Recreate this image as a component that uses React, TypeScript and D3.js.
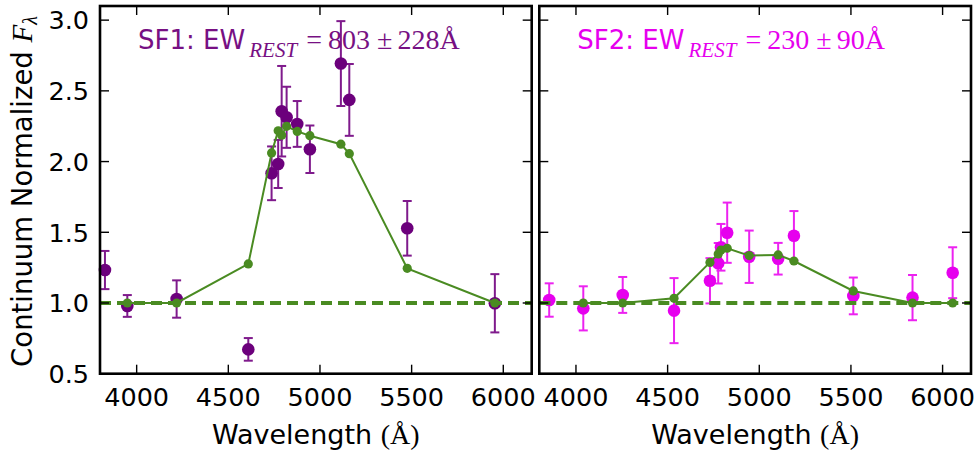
import React from "react";
import * as d3 from "d3";

// Observed photometry (continuum normalized) for the two sources
const sf1Wave = [3827, 3949, 4218, 4609, 4736, 4772, 4791, 4818, 4876, 4945, 5114, 5160, 5476, 5954];
const sf1Flux = [1.233, 0.979, 1.028, 0.672, 1.917, 1.983, 2.356, 2.313, 2.266, 2.087, 2.693, 2.436, 1.528, 0.998];
const sf1Err = [0.135, 0.077, 0.132, 0.08, 0.19, 0.17, 0.32, 0.216, 0.162, 0.168, 0.3, 0.254, 0.193, 0.206];

// Best-fit model sampled at the filter wavelengths
const sf1ModelWave = [3949, 4218, 4609, 4736, 4772, 4791, 4818, 4876, 4945, 5114, 5160, 5476, 5954];
const sf1ModelFlux = [1.0, 1.0, 1.276, 2.061, 2.218, 2.186, 2.249, 2.213, 2.183, 2.123, 2.056, 1.245, 1.0];

const sf2Wave = [3854, 4040, 4255, 4535, 4731, 4776, 4791, 4825, 4945, 5103, 5189, 5513, 5836, 6055];
const sf2Flux = [1.021, 0.962, 1.057, 0.946, 1.157, 1.281, 1.394, 1.497, 1.327, 1.313, 1.475, 1.05, 1.038, 1.214];
const sf2Err = [0.118, 0.156, 0.127, 0.23, 0.16, 0.143, 0.165, 0.213, 0.185, 0.112, 0.175, 0.13, 0.16, 0.18];

const sf2ModelWave = [4040, 4255, 4535, 4731, 4776, 4791, 4825, 4945, 5103, 5189, 5513, 5836, 6055];
const sf2ModelFlux = [1.0, 1.0, 1.033, 1.287, 1.347, 1.374, 1.387, 1.335, 1.34, 1.297, 1.085, 1.0, 1.0];

// Equivalent widths quoted in each panel
const sourceNames = ["SF1", "SF2"];
const ewValues = [803, 230];
const ewErrors = [228, 90];

const xTicks = [4000, 4500, 5000, 5500, 6000];
const yTicks = [0.5, 1.0, 1.5, 2.0, 2.5, 3.0];
const continuumLevel = 1.0;

const X_DOMAIN = [3800, 6155];
const Y_DOMAIN = [0.5, 3.1];
const PANEL_W = 431.7;
const TOP = 6;
const BOTTOM = 373.7;
const TICK_LEN = 9;

const SANS = "'DejaVu Sans', sans-serif";
const SERIF = "'Liberation Serif', 'DejaVu Serif', serif";
const GREEN = "#4a8b22";

type PanelProps = {
  x0: number;
  wave: number[];
  flux: number[];
  err: number[];
  modelWave: number[];
  modelFlux: number[];
  color: string;
  errColor: string;
  titleColor: string;
  name: string;
  ew: number;
  ewErr: number;
  showYLabels: boolean;
};

function Panel(p: PanelProps) {
  const x = d3.scaleLinear().domain(X_DOMAIN).range([p.x0, p.x0 + PANEL_W]);
  const y = d3.scaleLinear().domain(Y_DOMAIN).range([BOTTOM, TOP]);
  const modelPts: [number, number][] = p.modelWave.map((w, i) => [x(w), y(p.modelFlux[i])]);
  const line = d3.line();
  const cap = 4.5;
  const x1 = x(X_DOMAIN[0]);
  const x2 = x(X_DOMAIN[1]);
  const tx = p.x0 + 38;
  const ty = 49;

  return (
    <g>
      {/* error bars and observed fluxes */}
      {p.wave.map((w, i) => {
        const cx = x(w);
        const hi = y(p.flux[i] + p.err[i]);
        const lo = y(p.flux[i] - p.err[i]);
        return (
          <g key={"e" + i} stroke={p.errColor} strokeWidth={2}>
            <line x1={cx} x2={cx} y1={hi} y2={lo} />
            <line x1={cx - cap} x2={cx + cap} y1={hi} y2={hi} />
            <line x1={cx - cap} x2={cx + cap} y1={lo} y2={lo} />
          </g>
        );
      })}
      {p.wave.map((w, i) => (
        <circle key={"c" + i} cx={x(w)} cy={y(p.flux[i])} r={6.3} fill={p.color} />
      ))}

      {/* continuum level */}
      <line
        x1={x1}
        x2={x2}
        y1={y(continuumLevel)}
        y2={y(continuumLevel)}
        stroke={GREEN}
        strokeWidth={3.8}
        strokeDasharray="11 6"
      />

      {/* model */}
      <path d={line(modelPts) || ""} fill="none" stroke={GREEN} strokeWidth={2} />
      {modelPts.map((pt, i) => (
        <circle key={"m" + i} cx={pt[0]} cy={pt[1]} r={4.6} fill={GREEN} />
      ))}

      {/* ticks on all four sides */}
      {xTicks.map((t) => (
        <g key={"xt" + t} stroke="#000" strokeWidth={1.4}>
          <line x1={x(t)} x2={x(t)} y1={BOTTOM} y2={BOTTOM - TICK_LEN} />
          <line x1={x(t)} x2={x(t)} y1={TOP} y2={TOP + TICK_LEN} />
        </g>
      ))}
      {yTicks.map((t) => (
        <g key={"yt" + t} stroke="#000" strokeWidth={1.4}>
          <line x1={x1} x2={x1 + TICK_LEN} y1={y(t)} y2={y(t)} />
          <line x1={x2} x2={x2 - TICK_LEN} y1={y(t)} y2={y(t)} />
        </g>
      ))}

      <rect
        x={x1}
        y={TOP}
        width={x2 - x1}
        height={BOTTOM - TOP}
        fill="none"
        stroke="#000"
        strokeWidth={2.6}
      />

      {/* tick labels */}
      {xTicks.map((t) => (
        <text
          key={"xl" + t}
          x={x(t)}
          y={406}
          textAnchor="middle"
          fontFamily={SANS}
          fontSize={25.5}
          fill="#000"
        >
          {t}
        </text>
      ))}
      {p.showYLabels &&
        yTicks.map((t) => (
          <text
            key={"yl" + t}
            x={x1 - 11}
            y={y(t) + 9.3}
            textAnchor="end"
            fontFamily={SANS}
            fontSize={25.5}
            fill="#000"
          >
            {d3.format(".1f")(t)}
          </text>
        ))}

      {/* x axis label */}
      <text
        x={(x1 + x2) / 2}
        y={444}
        textAnchor="middle"
        fontFamily={SANS}
        fontSize={27}
        fill="#000"
      >
        Wavelength{" "}
        <tspan fontFamily={SERIF} fontSize={28}>
          (Å)
        </tspan>
      </text>

      {/* panel title */}
      <text x={tx} y={ty} fill={p.titleColor} fontFamily={SANS} fontSize={26}>
        {p.name}: EW
        <tspan
          fontFamily={SERIF}
          fontStyle="italic"
          fontSize={21}
          dx={4}
          dy={8}
          textLength={48}
          lengthAdjust="spacing"
        >
          REST
        </tspan>
        <tspan fontFamily={SERIF} fontSize={28} dx={9} dy={-8}>
          =
        </tspan>
        <tspan fontFamily={SERIF} fontSize={28} dx={6}>
          {String(p.ew)}
        </tspan>
        <tspan fontFamily={SERIF} fontSize={28} dx={7}>
          ±
        </tspan>
        <tspan fontFamily={SERIF} fontSize={28} dx={5}>
          {p.ewErr + "Å"}
        </tspan>
      </text>
    </g>
  );
}

export default function App() {
  return (
    <svg
      width={979}
      height={450}
      style={{ position: "absolute", left: 0, top: 0, background: "#fff" }}
    >
      <rect width={979} height={450} fill="#fff" />
      <Panel
        x0={100}
        wave={sf1Wave}
        flux={sf1Flux}
        err={sf1Err}
        modelWave={sf1ModelWave}
        modelFlux={sf1ModelFlux}
        color="#6c007c"
        errColor="#7f1a8c"
        titleColor="#771083"
        name={sourceNames[0]}
        ew={ewValues[0]}
        ewErr={ewErrors[0]}
        showYLabels={true}
      />
      <Panel
        x0={539.3}
        wave={sf2Wave}
        flux={sf2Flux}
        err={sf2Err}
        modelWave={sf2ModelWave}
        modelFlux={sf2ModelFlux}
        color="#e600ee"
        errColor="#ec22f0"
        titleColor="#e600ee"
        name={sourceNames[1]}
        ew={ewValues[1]}
        ewErr={ewErrors[1]}
        showYLabels={false}
      />
      {/* shared y axis label */}
      <text
        transform="translate(31.5,191.5) rotate(-90)"
        textAnchor="middle"
        fontFamily={SANS}
        fontSize={27.5}
        fill="#000"
      >
        Continuum Normalized{" "}
        <tspan fontFamily={SERIF} fontStyle="italic" fontSize={29}>
          F
        </tspan>
        <tspan fontFamily={SERIF} fontStyle="italic" fontSize={20} dy={5}>
          λ
        </tspan>
      </text>
    </svg>
  );
}
